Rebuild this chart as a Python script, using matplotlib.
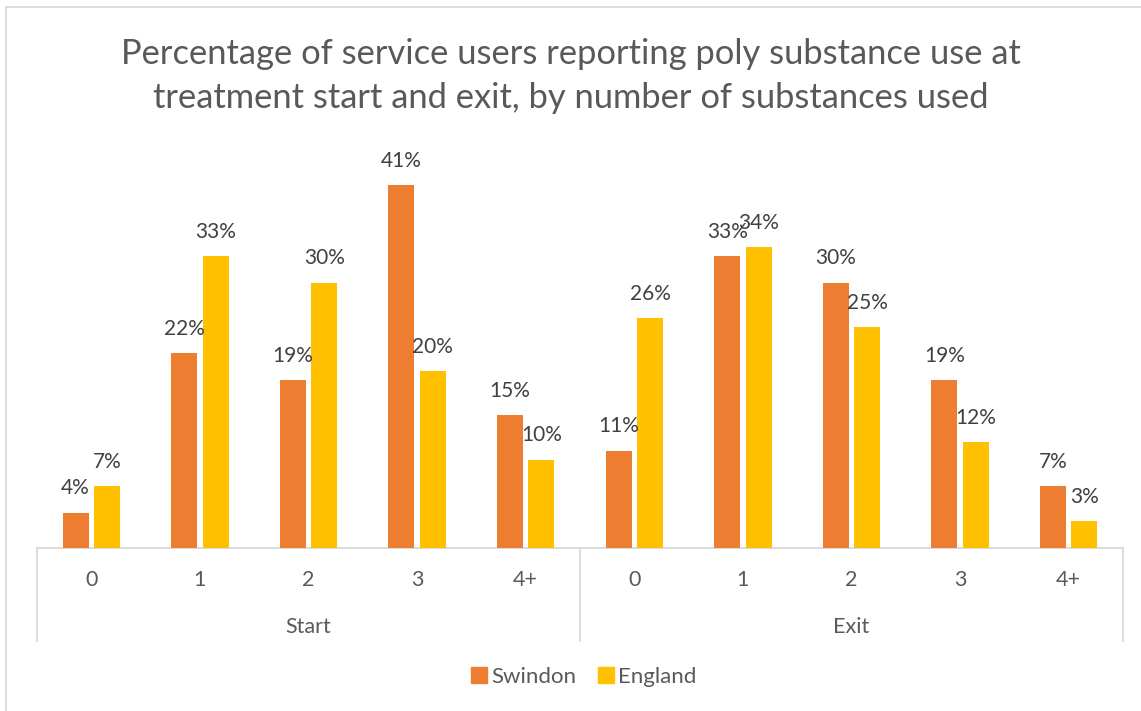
import matplotlib.pyplot as plt
from matplotlib.lines import Line2D
from matplotlib.patches import Patch

plt.rcParams['font.family'] = ['Lato', 'DejaVu Sans']

groups = ["Start", "Exit"]
substances = ["0", "1", "2", "3", "4+"]
swindon = [4, 22, 19, 41, 15, 11, 33, 30, 19, 7]
england = [7, 33, 30, 20, 10, 26, 34, 25, 12, 3]

ORANGE = "#ED7D31"
YELLOW = "#FFC000"
TEXT = "#595959"
GRID = "#D9D9D9"

W, H = 1141, 711
fig = plt.figure(figsize=(W / 100, H / 100), dpi=100)

# plot area in pixels: x 37..1123, y 150..548 (from top)
left, right, top, bottom = 37, 1123, 150, 548
ax = fig.add_axes([left / W, 1 - bottom / H, (right - left) / W, (bottom - top) / H])
ax_h = bottom - top

n = len(swindon)
xs = list(range(n))
bw = 0.24
off = 0.145
ax.bar([x - off for x in xs], swindon, width=bw, color=ORANGE, label="Swindon", zorder=3)
ax.bar([x + off for x in xs], england, width=bw, color=YELLOW, label="England", zorder=3)

for x, v in zip(xs, swindon):
    ax.annotate(f"{v}%", (x - off, v), xytext=(0, 17.5), textcoords="offset points",
                ha="center", va="center", fontsize=15, color="#404040")
for x, v in zip(xs, england):
    ax.annotate(f"{v}%", (x + off, v), xytext=(0, 17.5), textcoords="offset points",
                ha="center", va="center", fontsize=15, color="#404040")

ax.set_xlim(-0.5, n - 0.5)
ax.set_ylim(0, 45)
ax.set_xticks([])
ax.set_yticks([])
for s in ["top", "right", "left"]:
    ax.spines[s].set_visible(False)
ax.spines["bottom"].set_color(GRID)
ax.spines["bottom"].set_linewidth(1.3)

# multi-level category axis
tr = ax.get_xaxis_transform()
line_end = -(641 - bottom) / ax_h
for xv in [-0.5, 4.5, 9.5]:
    ax.plot([xv, xv], [0, line_end], color=GRID, lw=1.3, transform=tr, clip_on=False)

for gi, g in enumerate(groups):
    for si, s in enumerate(substances):
        ax.text(gi * 5 + si, -(580 - bottom) / ax_h, s, transform=tr, ha="center", va="center",
                fontsize=15.5, color=TEXT)
    ax.text(gi * 5 + 2, -(627 - bottom) / ax_h, g, transform=tr, ha="center", va="center",
            fontsize=15.5, color=TEXT)

fig.text(0.5, 1 - 76 / H,
         "Percentage of service users reporting poly substance use at\n"
         "treatment start and exit, by number of substances used",
         ha="center", va="center", fontsize=24.8, color=TEXT, linespacing=1.43)

handles = [Patch(color=ORANGE), Patch(color=YELLOW)]
fig.legend(handles, ["Swindon", "England"], loc="center", bbox_to_anchor=(584 / W, 1 - 677 / H),
           ncol=2, frameon=False, fontsize=16, labelcolor=TEXT, handlelength=0.72,
           handleheight=0.72, handletextpad=0.2, columnspacing=0.95)

# chart border
fig.add_artist(Line2D([6 / W, 6 / W], [0, 1 - 7 / H], color=GRID, lw=1.3))
fig.add_artist(Line2D([6 / W, 1], [1 - 7 / H, 1 - 7 / H], color=GRID, lw=1.3))

fig.savefig("out.png", dpi=100)
